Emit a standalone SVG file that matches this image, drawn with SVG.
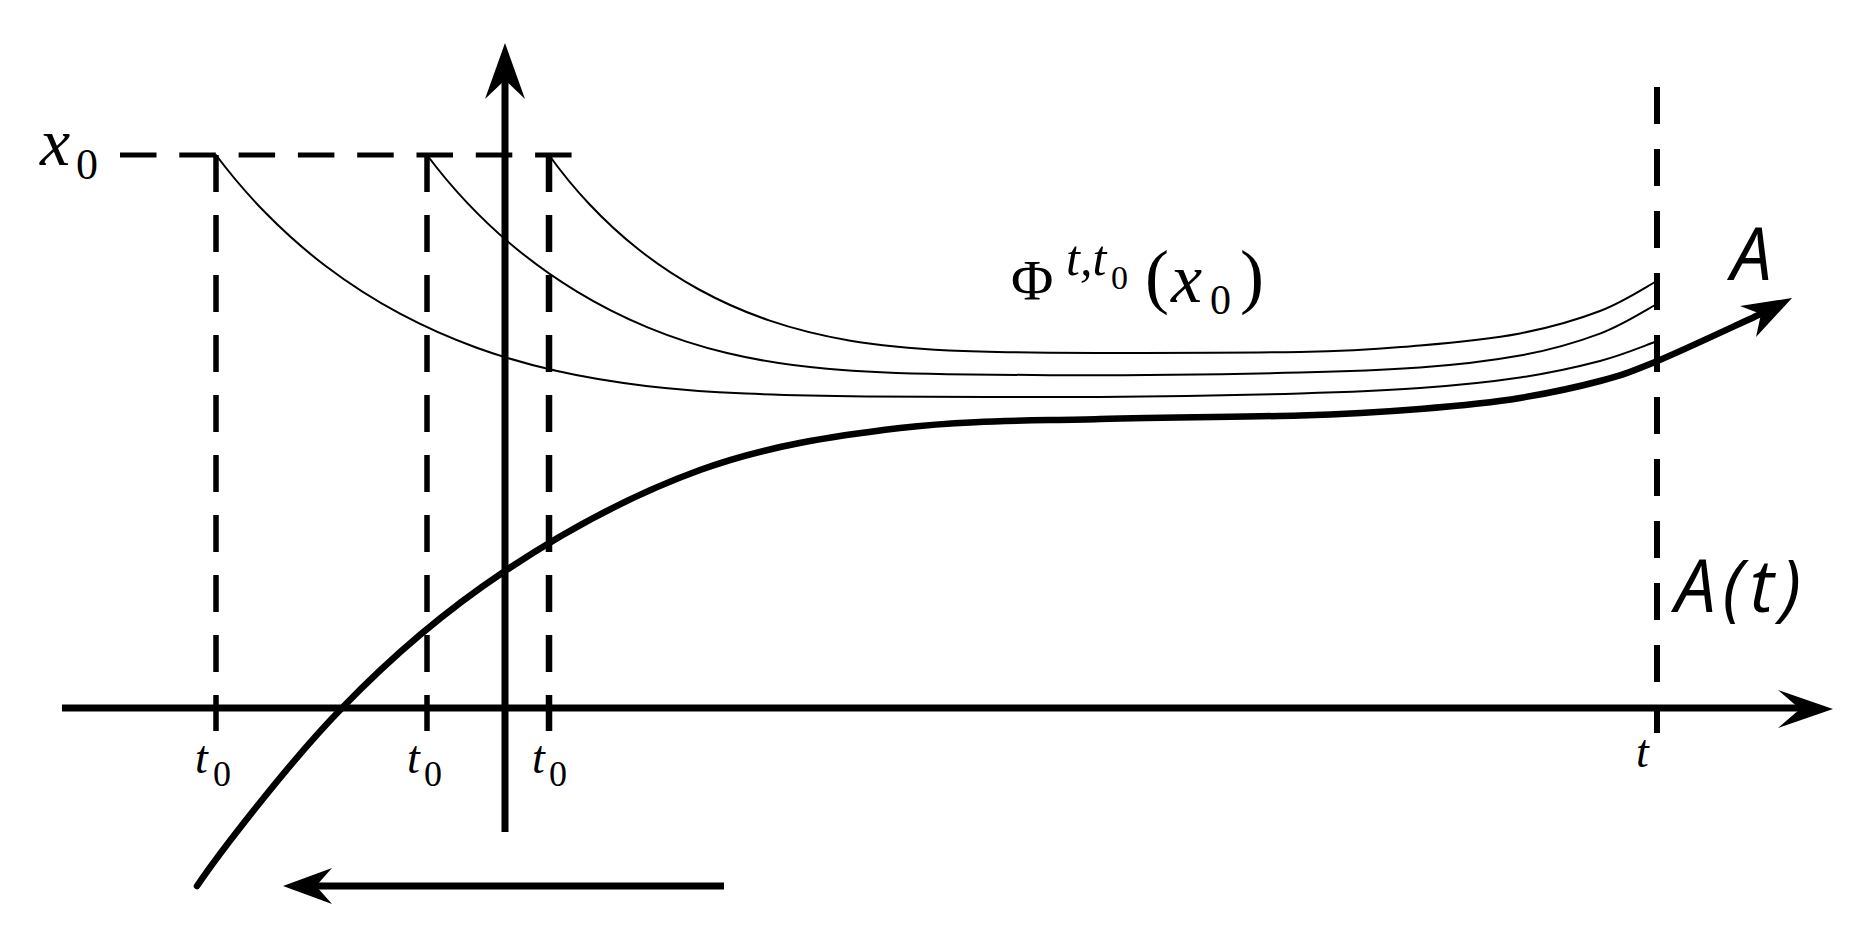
<svg xmlns="http://www.w3.org/2000/svg" width="1870" height="945" viewBox="0 0 1870 945">
<style>
.it{font-family:"Liberation Serif",serif;font-style:italic;fill:#000}
.rm{font-family:"Liberation Serif",serif;fill:#000}
.sans{font-family:"Open Sans","DejaVu Sans",sans-serif;font-style:italic;fill:#000}
.dash{stroke:#000;fill:none;stroke-width:5.5;stroke-dasharray:37 23}
.axis{stroke:#000;fill:none;stroke-width:7}
.thin{stroke:#000;fill:none;stroke-width:2;stroke-linecap:round}
.thick{stroke:#000;fill:none;stroke-width:6.5;stroke-linecap:round}
.head{fill:#000;stroke:none}
</style>
<rect width="1870" height="945" fill="#fff"/>
<g id="guides">
<path class="dash" d="M120,155 H572" style="stroke-dasharray:36.5 22.8;stroke-width:5"/>
<path class="dash" d="M216,155 V731"/>
<path class="dash" d="M427,155 V731"/>
<path class="dash" d="M549,155 V731" style="stroke-width:6.5"/>
<path class="dash" d="M1657,87 V733" style="stroke-dasharray:37 25;stroke-width:6"/>
</g>
<g id="connectors">
<path id="t-axis" class="axis" d="M62,708 H1802"/>
<polygon class="head" points="1833,709 1778,690 1800,709 1778,728"/>
<path id="x-axis" class="axis" d="M505,832 V80"/>
<polygon class="head" points="505,43 485,99 505,80 525,99"/>
<path id="time-arrow" class="axis" d="M724,886 H314"/>
<polygon class="head" points="283,886 332,868 316,886 332,904"/>
</g>
<g id="trajectory-1">
<path class="thin" d="M216,155 C232.7,177.2 249.3,196.3 266,213.3 C286,233.7 306,251.1 326,266.3 C350.7,285.1 375.3,300.5 400,313.7 C425.3,327.2 450.7,338.3 476,347.5 C502.7,357.2 529.3,364.8 556,370.8 C586,377.6 616,382.4 646,385.9 C679.3,389.8 712.7,392.1 746,393.6 C786,395.4 826,396 866,396.4 C940,397 1025,397 1100,397 C1175,396.4 1246.7,394.9 1300,393.4 C1353.3,391.9 1383.3,390.7 1420,388 C1456.7,385.4 1490,382 1520,377.5 C1550,373 1577.5,366.9 1600,361 C1622.5,355.1 1645.8,345.2 1655,342"/>
</g>
<g id="trajectory-2">
<path class="thin" d="M427,155 C440.3,172.8 453.7,188.5 467,202.6 C483.7,220.3 500.3,235.6 517,249.2 C537,265.6 557,279.5 577,291.6 C600.3,305.8 623.7,317.4 647,327.1 C673.7,338.2 700.3,346.6 727,353 C760.3,361 793.7,365.8 827,368.8 C867,372.4 907,373.6 947,374.2 C980,374.6 1015,375 1050,375.2 C1117,375.4 1238,374 1300,372.6 C1362,371 1383,370 1420,367.5 C1457,365 1490,361 1520,355.6 C1550,350 1577.5,342 1600,333.6 C1622.5,325 1646,310 1655,305"/>
</g>
<g id="trajectory-3">
<path class="thin" d="M549,155 C562.3,173.6 575.7,189.6 589,203.8 C605.7,221.6 622.3,236.7 639,249.8 C659,265.5 679,278.5 699,289.5 C722.3,302.3 745.7,312.4 769,320.4 C795.7,329.5 822.3,335.9 849,340.4 C882.3,346.1 915.7,348.8 949,350.4 C982.3,352 1015.7,352.4 1049,352.7 C1130,353 1230,353 1300,352 C1370,351 1383,348.5 1420,345.4 C1457,342.3 1490,339 1520,333.4 C1550,327.7 1577.5,319.6 1600,311 C1622.5,302.4 1646,287 1655,282"/>
</g>
<g id="attractor-A">
<path class="thick" d="M197,886 C220,852 291,760 342,708 C393,655 445,611 505,571 C565,531 634,494 700,470 C766,446 833,436 900,428 C967,420 1033,421 1100,419 C1167,417 1247,417 1300,415.5 C1353,414 1383,412 1420,409 C1457,406 1490,403 1520,398 C1550,393 1577.5,387 1600,381 C1622.5,375 1628,373 1655,362 C1682,351 1745,321 1763,313"/>
<polygon class="head" points="1792,298 1740,306 1761,314 1756,337"/>
</g>
<g id="label-x0">
<text class="it" x="40" y="165" font-size="68">x</text>
<text class="rm" x="76" y="179" font-size="44">0</text>
</g>
<g id="label-t0-1">
<text class="it" x="195" y="773" font-size="46">t</text>
<text class="rm" x="213" y="786" font-size="36">0</text>
</g>
<g id="label-t0-2">
<text class="it" x="407" y="773" font-size="46">t</text>
<text class="rm" x="424" y="786" font-size="36">0</text>
</g>
<g id="label-t0-3">
<text class="it" x="532" y="773" font-size="46">t</text>
<text class="rm" x="549" y="786" font-size="36">0</text>
</g>
<g id="label-t">
<text class="it" x="1636" y="767" font-size="46">t</text>
</g>
<g id="label-phi">
<text class="rm" x="1011" y="300" font-size="58">Φ</text>
<text class="it" x="1066" y="275" font-size="50">t,t</text>
<text class="rm" x="1111" y="289" font-size="34">0</text>
<text class="rm" x="1145" y="300" font-size="72">(</text>
<text class="it" x="1171" y="302" font-size="70">x</text>
<text class="rm" x="1210" y="314" font-size="42">0</text>
<text class="rm" x="1240" y="300" font-size="72">)</text>
</g>
<g id="label-A">
<text class="sans" x="1731" y="280" font-size="73">A</text>
</g>
<g id="label-At">
<text class="sans" x="1675" y="612" font-size="73" textLength="126" lengthAdjust="spacing">A(t)</text>
</g>
</svg>
